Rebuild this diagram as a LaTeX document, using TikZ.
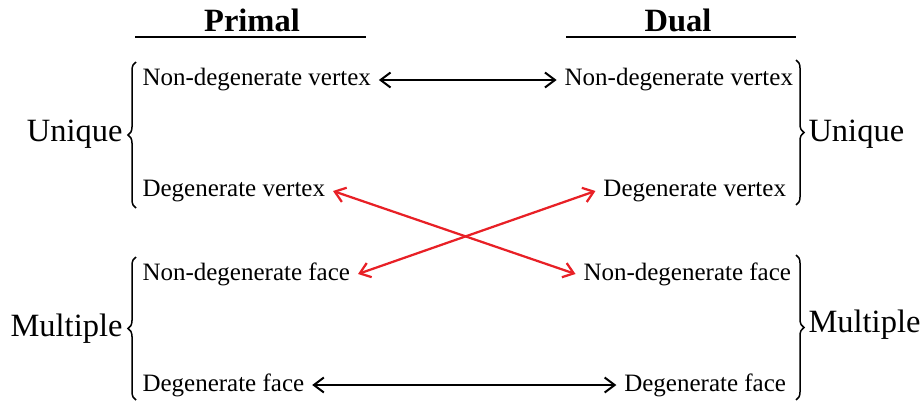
\documentclass[tikz,border=0pt]{standalone}
\usepackage{fontspec}
\setmainfont{Liberation Serif}
\usetikzlibrary{positioning, arrows.meta, decorations.pathreplacing}
\definecolor{CrossRed}{RGB}{232, 32, 38}
\tikzset{
  entry/.style={font=\fontsize{10}{12}\selectfont, inner sep=3pt},
  side/.style={font=\fontsize{13}{15}\selectfont, inner sep=2pt},
  head/.style={font=\fontsize{13}{15}\selectfont\bfseries},
  link/.style={{Straight Barb[length=4pt,width=6pt]}-{Straight Barb[length=4pt,width=6pt]}, line width=0.8pt},
  bracket/.style={decorate, decoration={brace, amplitude=3.2pt}, line width=0.6pt}
}

\begin{document}
\begin{tikzpicture}[x=0.4pt, y=0.4pt]
    \useasboundingbox (0,0) rectangle (924,401);

    % Headings
    \node[head] (primal) at (252,381) {Primal};
    \node[head] (dual) at (678,381) {Dual};
    \draw[line width=1pt] (135,364) -- (366,364);
    \draw[line width=1pt] (566,364) -- (796,364);

    % Primal side
    \node[entry, anchor=west] (pnv) at (134.5,321) {Non-degenerate vertex};
    \node[entry, anchor=west] (pdv) at (134.5,210) {Degenerate vertex};
    \node[entry, anchor=west] (pnf) at (134.5,127) {Non-degenerate face};
    \node[entry, anchor=west] (pdf) at (134.5,16) {Degenerate face};

    % Dual side
    \node[entry, anchor=east] (dnv) at (801,321) {Non-degenerate vertex};
    \node[entry, anchor=east] (ddv) at (794,210) {Degenerate vertex};
    \node[entry, anchor=east] (dnf) at (799,127) {Non-degenerate face};
    \node[entry, anchor=east] (ddf) at (794,16) {Degenerate face};

    % Braces and their labels
    \draw[bracket] (136,193) -- (136,339);
    \draw[bracket] (136,1) -- (136,144);
    \draw[bracket] (796,341) -- (796,196);
    \draw[bracket] (796,146) -- (796,1);
    \node[side, anchor=east] (puniq) at (128,267) {Unique};
    \node[side, anchor=east] (pmult) at (128,72) {Multiple};
    \node[side, anchor=west] (duniq) at (803,267) {Unique};
    \node[side, anchor=west] (dmult) at (803,76) {Multiple};

    % Correspondences
    \draw[link] (pnv.east) -- (dnv.west);
    \draw[link, CrossRed, line width=0.9pt] (pdv.east) -- (dnf.west);
    \draw[link, CrossRed, line width=0.9pt] (pnf.east) -- (ddv.west);
    \draw[link] (pdf.east) -- (ddf.west);
\end{tikzpicture}
\end{document}
